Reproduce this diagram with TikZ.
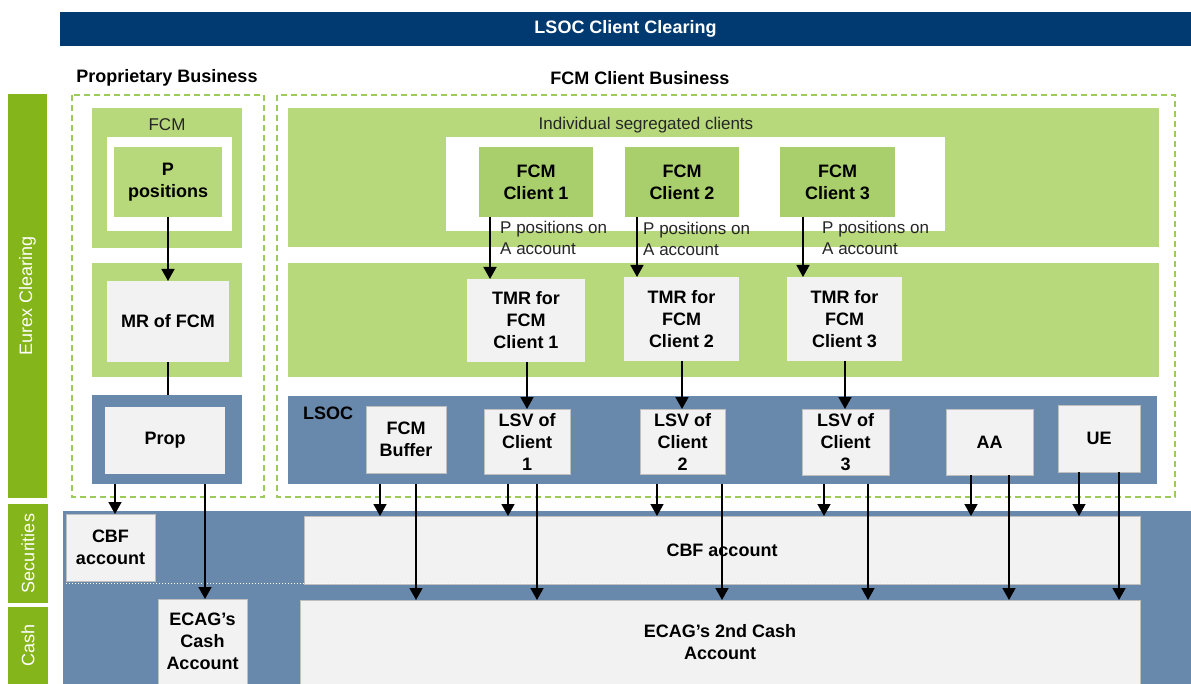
\documentclass[tikz,border=0pt]{standalone}
\usepackage{fontspec}
\setmainfont{Liberation Sans}
\usetikzlibrary{arrows.meta}
\definecolor{navy}{HTML}{003A70}
\definecolor{barGreen}{HTML}{84B51B}
\definecolor{paleGreen}{HTML}{B7D87B}
\definecolor{clientGreen}{HTML}{A8CF6C}
\definecolor{steelBlue}{HTML}{6888AC}
\definecolor{boxGray}{HTML}{F2F2F2}
\definecolor{dashGreen}{HTML}{9CCB5A}
\tikzstyle{panel} = [rectangle, inner sep=0pt, outer sep=0pt]
\tikzstyle{sidebar} = [panel, fill=barGreen, text=white, font=\fontsize{18}{22}\selectfont]
\tikzstyle{greenpanel} = [panel, fill=paleGreen]
\tikzstyle{bluepanel} = [panel, fill=steelBlue]
\tikzstyle{whitepanel} = [panel, fill=white]
\tikzstyle{client} = [panel, fill=clientGreen, align=center, font=\fontsize{18}{22}\selectfont\bfseries]
\tikzstyle{account} = [panel, fill=boxGray, draw=black!25, line width=.6pt, align=center, font=\fontsize{18}{22}\selectfont\bfseries]
\tikzstyle{heading} = [inner sep=0pt, font=\fontsize{18}{22}\selectfont\bfseries]
\tikzstyle{note} = [inner sep=0pt, align=left, text=black!85, font=\fontsize{17}{21}\selectfont]
\tikzstyle{zone} = [draw=dashGreen, line width=1.5pt, dash pattern=on 6pt off 4pt]
\tikzstyle{flow} = [line width=1.6pt, -{Triangle[width=13pt,length=12pt]}]

\begin{document}
\begin{tikzpicture}[x=1pt, y=-1pt]
    \useasboundingbox (0,0) rectangle (1191,684);
    % title and headings
    \draw (625.5,29) node[panel, fill=navy, text=white, font=\fontsize{18}{22}\selectfont\bfseries, minimum width=1131, minimum height=34] (title) {LSOC Client Clearing};
    \draw (167,78) node[heading] (prophead) {Proprietary Business};
    \draw (640,78) node[heading] (fcmhead) {FCM Client Business};
    % side bars
    \draw (27.5,296) node[sidebar, rotate=90, minimum width=404, minimum height=39] (eurex) {Eurex Clearing};
    \draw (28,553.5) node[sidebar, rotate=90, minimum width=99, minimum height=40] (secbar) {Securities};
    \draw (28,645.5) node[sidebar, rotate=90, minimum width=77, minimum height=40] (cashbar) {Cash};
    % dashed business areas
    \draw[zone] (72,95) rectangle (264,497);
    \draw[zone] (277,95) rectangle (1175,497);

    % proprietary business
    \draw (167,178) node[greenpanel, minimum width=150, minimum height=140] (fcmG) {};
    \draw (167,125) node[note] (fcmlbl) {FCM};
    \draw (169.5,184) node[whitepanel, minimum width=125, minimum height=94] (fcmW) {};
    \draw (168,182) node[client, fill=paleGreen, minimum width=108, minimum height=70] (ppos) {P\\positions};
    \draw (167,320) node[greenpanel, minimum width=150, minimum height=114] (mrG) {};
    \draw (168,321.5) node[account, draw=none, minimum width=122, minimum height=81] (mr) {MR of FCM};
    \draw (167,439.5) node[bluepanel, minimum width=150, minimum height=89] (propB) {};
    \draw (165,440.5) node[account, draw=none, minimum width=120, minimum height=67] (prop) {Prop};

    % FCM client business
    \draw (723.5,177.5) node[greenpanel, minimum width=871, minimum height=139] (segG) {};
    \draw (646,125) node[note] (seglbl) {Individual segregated clients};
    \draw (695.5,184) node[whitepanel, minimum width=499, minimum height=94] (segW) {};
    \draw (536,182) node[client, minimum width=114, minimum height=70] (c1) {FCM\\Client 1};
    \draw (682,182) node[client, minimum width=114, minimum height=70] (c2) {FCM\\Client 2};
    \draw (837.5,182) node[client, minimum width=115, minimum height=70] (c3) {FCM\\Client 3};
    \draw (500,238) node[note, anchor=west] (n1) {P positions on\\A account};
    \draw (643,239) node[note, anchor=west] (n2) {P positions on\\A account};
    \draw (822,238) node[note, anchor=west] (n3) {P positions on\\A account};
    \draw (723.5,320) node[greenpanel, minimum width=871, minimum height=114] (tmrG) {};
    \draw (526,320.5) node[account, draw=none, minimum width=118, minimum height=83] (t1) {TMR for\\FCM\\Client 1};
    \draw (681.5,319) node[account, draw=none, minimum width=115, minimum height=84] (t2) {TMR for\\FCM\\Client 2};
    \draw (844.5,319) node[account, draw=none, minimum width=115, minimum height=84] (t3) {TMR for\\FCM\\Client 3};
    \draw (722.5,440) node[bluepanel, minimum width=869, minimum height=88] (lsocB) {};
    \draw (328,413) node[heading] (lsoclbl) {LSOC};
    \draw (406,439.5) node[account, minimum width=80, minimum height=67] (buf) {FCM\\Buffer};
    \draw (527,441.5) node[account, minimum width=86, minimum height=65] (l1) {LSV of\\Client\\1};
    \draw (682.5,441.5) node[account, minimum width=85, minimum height=65] (l2) {LSV of\\Client\\2};
    \draw (845.5,442) node[account, minimum width=87, minimum height=66] (l3) {LSV of\\Client\\3};
    \draw (989.5,442) node[account, minimum width=87, minimum height=66] (aa) {AA};
    \draw (1099,438.5) node[account, minimum width=82, minimum height=67] (ue) {UE};

    % securities and cash accounts
    \draw (627,597.5) node[bluepanel, minimum width=1128, minimum height=173] (acctB) {};
    \draw (110.5,547.5) node[account, minimum width=89, minimum height=67] (cbfL) {CBF\\account};
    \draw (722,550) node[account, minimum width=836, minimum height=68] (cbfR) {CBF account};
    \draw[white, dotted, line width=1pt] (66,583) -- (1022,583);
    \draw (202.5,641.5) node[account, minimum width=89, minimum height=85] (cashL) {ECAG's\\Cash\\Account};
    \draw (720,642) node[account, minimum width=840, minimum height=84] (cashR) {ECAG's 2nd Cash\\Account};

    % flows
    \draw[flow] (ppos) -- (mr);
    \draw[line width=1.6pt] (mr.south) -- (mr.south |- propB.north);
    \draw[flow] (115,0 |- propB.south) -- (115,0 |- cbfL.north);
    \draw[flow] (205,0 |- propB.south) -- (205,0 |- cashL.north);
    \draw[flow] (490,0 |- c1.south) -- (490,0 |- t1.north);
    \draw[flow] (637,0 |- c2.south) -- (637,0 |- t2.north);
    \draw[flow] (803,0 |- c3.south) -- (803,0 |- t3.north);
    \draw[flow] (527,0 |- t1.south) -- (527,0 |- l1.north);
    \draw[flow] (682,0 |- t2.south) -- (682,0 |- l2.north);
    \draw[flow] (845,0 |- t3.south) -- (845,0 |- l3.north);
    \draw[flow] (380,0 |- lsocB.south) -- (380,0 |- cbfR.north);
    \draw[flow] (416,0 |- lsocB.south) -- (416,0 |- cashR.north);
    \draw[flow] (508,0 |- lsocB.south) -- (508,0 |- cbfR.north);
    \draw[flow] (537,0 |- lsocB.south) -- (537,0 |- cashR.north);
    \draw[flow] (657,0 |- lsocB.south) -- (657,0 |- cbfR.north);
    \draw[flow] (722,0 |- lsocB.south) -- (722,0 |- cashR.north);
    \draw[flow] (824,0 |- lsocB.south) -- (824,0 |- cbfR.north);
    \draw[flow] (868,0 |- lsocB.south) -- (868,0 |- cashR.north);
    \draw[flow] (971,0 |- aa.south) -- (971,0 |- cbfR.north);
    \draw[flow] (1009,0 |- aa.south) -- (1009,0 |- cashR.north);
    \draw[flow] (1079,0 |- ue.south) -- (1079,0 |- cbfR.north);
    \draw[flow] (1119,0 |- ue.south) -- (1119,0 |- cashR.north);
\end{tikzpicture}
\end{document}
